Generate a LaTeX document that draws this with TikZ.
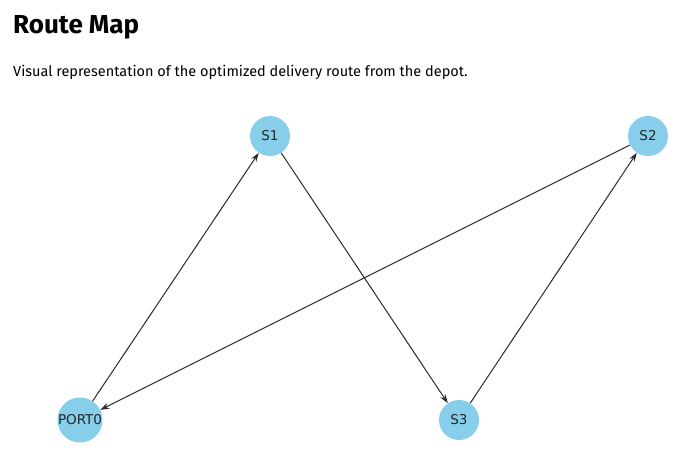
\documentclass[tikz,border=0pt]{standalone}
\usepackage{fontspec}
\setmainfont{Fira Sans}
\newfontfamily\nodefont{DejaVu Sans}
\usetikzlibrary{arrows.meta}
\definecolor{nodeblue}{HTML}{87CEEB}
\definecolor{edgegray}{HTML}{2A2A2A}
\tikzset{
  stop/.style={circle, fill=nodeblue, minimum size=40pt, inner sep=0pt, font=\nodefont\fontsize{13.5}{13.5}\selectfont, text=black!85},
  route/.style={draw=edgegray, line width=1pt, -{Stealth[length=9pt,width=6pt]}},
}
\begin{document}
\begin{tikzpicture}[x=1pt,y=-1pt]
\useasboundingbox (0,0) rectangle (693,472);
\node[anchor=base west, inner sep=0pt, font=\bfseries\fontsize{26}{26}\selectfont] (title) at (13,33) {Route Map};
\node[anchor=base west, inner sep=0pt, font=\fontsize{14.5}{14.5}\selectfont] (sub) at (13,76) {Visual representation of the optimized delivery route from the depot.};
\node[stop] (p0) at (80,420) {PORT0};
\node[stop] (s1) at (270,136) {S1};
\node[stop] (s2) at (648,136) {S2};
\node[stop] (s3) at (459,420) {S3};
\draw[route] (p0) -- (s1);
\draw[route] (s1) -- (s3);
\draw[route] (s3) -- (s2);
\draw[route] (s2) -- (p0);
\end{tikzpicture}
\end{document}
